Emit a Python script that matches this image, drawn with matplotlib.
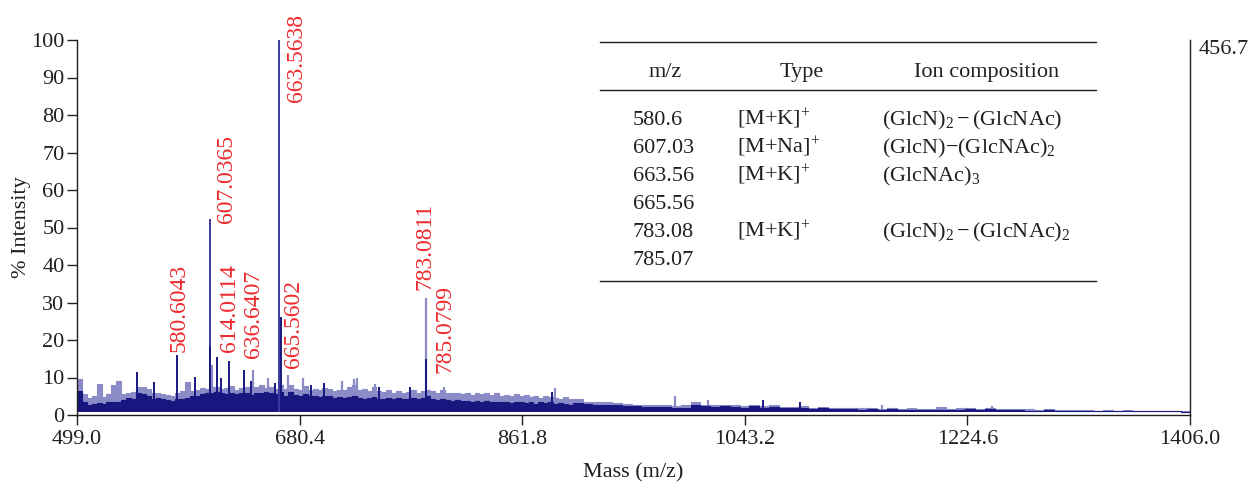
import numpy as np
import matplotlib
matplotlib.use('Agg')
import matplotlib.pyplot as plt
from matplotlib.lines import Line2D

plt.rcParams['font.family'] = ['Liberation Serif', 'DejaVu Serif']
plt.rcParams['mathtext.fontset'] = 'custom'
plt.rcParams['mathtext.rm'] = 'Liberation Serif'
plt.rcParams['mathtext.it'] = 'Liberation Serif:italic'
plt.rcParams['mathtext.bf'] = 'Liberation Serif:bold'

# --- spectrum background, bin starts in m/z ---
mz_fine = np.arange(499, 903, 4)      # 4 m/z bins up to 903
mz_coarse = np.arange(903, 1407, 8)   # 8 m/z bins after that
mz_end = 1407

light_fine = [9.5, 5.5, 4.5, 5.0, 8.4, 4.8, 5.5, 8.0, 9.0, 5.6,
              6.0, 6.2, 7.5, 7.5, 7.0, 5.8, 6.0, 5.6, 5.4, 5.0,
              6.0, 6.5, 8.8, 6.5, 6.8, 7.2, 7.0, 7.5, 7.6, 7.0,
              7.2, 7.8, 6.8, 7.2, 7.4, 6.8, 7.6, 8.0, 7.2, 7.6,
              7.0, 8.0, 7.0, 8.0, 7.0, 6.8, 7.8, 6.8, 7.0, 6.6,
              7.2, 7.0, 6.4, 6.8, 6.6, 7.4, 8.0, 6.8, 7.0, 6.4,
              7.6, 6.4, 6.2, 6.6, 6.0, 6.4, 6.0, 6.2, 6.6, 6.0,
              6.4, 6.8, 6.4, 6.0, 6.6, 6.0, 5.8, 6.0, 5.6, 6.0,
              5.4, 5.8, 5.6, 5.8, 5.4, 6.0, 5.2, 5.4, 5.0, 5.6,
              5.0, 5.4, 4.8, 5.2, 4.6, 5.0, 4.8, 4.6, 4.4, 4.8,
              4.2]
dark_fine = [6.5, 3.5, 2.8, 3.0, 3.2, 3.0, 3.4, 3.5, 3.6, 4.0,
             4.6, 4.4, 5.8, 5.6, 5.0, 4.4, 4.6, 4.2, 4.0, 3.8,
             4.2, 4.4, 4.6, 5.0, 5.2, 5.6, 5.8, 6.0, 6.2, 6.0,
             5.6, 5.8, 5.6, 6.0, 6.0, 5.4, 5.8, 6.0, 6.2, 5.8,
             5.5, 6.2, 5.0, 6.2, 5.4, 5.0, 5.6, 5.2, 5.0, 4.8,
             5.2, 5.0, 4.6, 4.8, 4.6, 4.8, 5.0, 4.6, 4.4, 4.6,
             4.8, 4.4, 4.2, 4.6, 4.4, 4.6, 4.2, 4.4, 4.6, 4.4,
             4.6, 5.0, 4.4, 4.0, 4.2, 4.0, 3.8, 4.0, 3.8, 3.8,
             3.6, 3.8, 3.6, 3.8, 3.4, 3.6, 3.4, 3.6, 3.2, 3.4,
             3.6, 3.2, 3.6, 3.0, 3.4, 3.2, 3.6, 3.0, 3.2, 3.0,
             2.8]
light_coarse = [4.2, 3.6, 3.6, 3.4, 3.2, 3.0, 2.8, 2.8, 2.6, 2.8,
                2.4, 2.6, 3.4, 2.8, 2.6, 2.8, 2.6, 2.4, 2.8, 2.4,
                2.6, 2.2, 2.2, 2.4, 2.0, 2.2, 1.9, 2.0, 1.9, 1.8,
                2.0, 1.7, 1.9, 1.7, 1.8, 1.6, 1.7, 2.2, 1.6, 1.8,
                1.9, 1.6, 2.0, 1.6, 1.7, 1.6, 1.5, 1.4, 1.6, 1.4,
                1.4, 1.4, 1.4, 1.2, 1.4, 1.2, 1.4, 1.2, 1.2, 1.2,
                1.2, 1.1, 1.0]
dark_coarse = [3.2, 3.0, 2.8, 2.8, 2.6, 2.4, 2.4, 2.2, 2.2, 2.2,
               2.0, 2.0, 2.6, 2.4, 2.2, 2.4, 2.2, 2.0, 2.4, 2.0,
               2.2, 1.8, 1.8, 2.0, 1.6, 1.8, 1.6, 1.6, 1.6, 1.4,
               1.6, 1.4, 1.6, 1.4, 1.4, 1.4, 1.4, 1.4, 1.4, 1.4,
               1.6, 1.4, 1.6, 1.4, 1.4, 1.4, 1.2, 1.2, 1.4, 1.2,
               1.2, 1.2, 1.2, 1.0, 1.2, 1.0, 1.2, 1.0, 1.0, 1.0,
               1.0, 1.0, 0.9]
baseline = 0.8

# narrow spikes
spike_dark_mz = [547.6, 561.7, 580.6, 595.2, 607.5, 612.8, 616.5, 622.9,
                 635.4, 640.5, 660.0, 665.56, 690.0, 700.5, 745.0, 770.0,
                 783.3, 885.8, 1058.3, 1088.2]
spike_dark_h = [11.6, 8.9, 16.0, 10.2, 18.4, 15.5, 10.0, 14.4,
                12.0, 9.0, 8.5, 26.2, 8.0, 8.6, 7.5, 7.4,
                15.0, 6.2, 4.0, 3.6]
spike_mid_mz = [607.04, 663.56]
spike_mid_h = [52.3, 100.0]
spike_light_mz = [609.0, 642.7, 654.9, 670.7, 683.2, 714.7, 724.7, 727.0,
                  741.9, 783.08, 798.0, 888.5, 986.3, 1013.5, 1155.0, 1245.0]
spike_light_h = [13.3, 12.0, 9.8, 10.7, 9.8, 9.0, 9.6, 9.8,
                 8.4, 31.3, 7.6, 7.1, 5.0, 4.0, 2.6, 2.3]

# peak annotations
peak_labels = ['580.6043', '607.0365', '614.0114', '636.6407',
               '663.5638', '665.5602', '783.0811', '785.0799']
label_x = [582.1, 621.2, 622.9, 643.2, 677.5, 675.8, 782.6, 798.9]
label_y = [16.8, 51.2, 16.8, 15.2, 83.5, 12.5, 33.3, 11.2]

# table
col_heads = ['m/z', 'Type', 'Ion composition']
tab_mz = ['580.6', '607.03', '663.56', '665.56', '783.08', '785.07']
tab_type = ['[M+K]$^{+}$', '[M+Na]$^{+}$', '[M+K]$^{+}$', '', '[M+K]$^{+}$', '']
tab_ion = [r'(GlcN$)_{2}-$(GlcNAc)', r'(GlcN)$-$(GlcNAc$)_{2}$', r'(GlcNAc$)_{3}$',
           '', r'(GlcN$)_{2}-$(GlcNAc$)_{2}$', '']

xticks = [499.0, 680.4, 861.8, 1043.2, 1224.6, 1406.0]
yticks = [0, 10, 20, 30, 40, 50, 60, 70, 80, 90, 100]

INK = '#231f20'
DARK = '#17177f'
MID = '#3a3a9e'
LIGHT = '#8b8bc7'
RED = '#ee2a2e'
FS = 16

W, H = 1257, 483
fig = plt.figure(figsize=(W / 100, H / 100), dpi=100)
ax = fig.add_axes([77 / W, 68 / H, 1113 / W, 375 / H])

edges = np.append(np.concatenate([mz_fine, mz_coarse]), mz_end)
light = np.concatenate([light_fine, light_coarse])
dark = np.concatenate([dark_fine, dark_coarse])
light = np.append(light, light[-1])
dark = np.append(dark, dark[-1])

# light layer first, dark layer on top of it
ax.fill_between(edges, baseline, light, step='post', color=LIGHT, lw=0, zorder=1)
ax.step(edges, light, where='post', color=LIGHT, lw=0.8, zorder=1.1)
ax.vlines(spike_light_mz, baseline, spike_light_h, color=LIGHT, lw=1.6, zorder=1.2)
ax.fill_between(edges, baseline, dark, step='post', color=DARK, lw=0, zorder=2)
ax.step(edges, dark, where='post', color=DARK, lw=0.8, zorder=2.1)
ax.vlines(spike_mid_mz, baseline, spike_mid_h, color=MID, lw=1.4, zorder=2.2)
ax.vlines(spike_dark_mz, baseline, spike_dark_h, color=DARK, lw=1.4, zorder=2.3)

for lab, lx, ly in zip(peak_labels, label_x, label_y):
    ax.text(lx, ly, lab, rotation=90, ha='center', va='bottom',
            color=RED, fontsize=17)

ax.set_xlim(499, 1406)
ax.set_ylim(0, 100)
ax.set_xticks(xticks)
ax.set_xticklabels([f'{t:.1f}' for t in xticks])
ax.set_yticks(yticks)
ax.tick_params(colors=INK, labelsize=FS, length=7, width=1, direction='out')
ax.tick_params(axis='x', pad=4)
ax.tick_params(axis='y', pad=2)
ax.spines['top'].set_visible(False)
for s in ['left', 'bottom', 'right']:
    ax.spines[s].set_color(INK)
    ax.spines[s].set_linewidth(1)
ax.set_xlabel('Mass (m/z)', fontsize=FS, color=INK, labelpad=10)
ax.set_ylabel('% Intensity', fontsize=FS, color=INK, labelpad=0)
ax.text(1.008, 1.0, '456.7', transform=ax.transAxes, ha='left', va='top',
        fontsize=FS, color=INK)

# table drawn in figure pixels
def fx(px):
    return px / W

def fy(py):
    return 1 - py / H

for py in [42, 90, 281]:
    fig.add_artist(Line2D([fx(600), fx(1096)], [fy(py), fy(py)],
                          color=INK, lw=1))
for head, cx in zip(col_heads, [665, 802, 987]):
    fig.text(fx(cx), fy(77), head, ha='center', va='baseline',
             fontsize=FS, color=INK)
row_base = [125, 153, 181, 209, 237, 265]
for m, t, c, by in zip(tab_mz, tab_type, tab_ion, row_base):
    fig.text(fx(633), fy(by), m, ha='left', va='baseline', fontsize=FS, color=INK)
    if t:
        fig.text(fx(737), fy(by), t, ha='left', va='baseline', fontsize=FS, color=INK)
    if c:
        fig.text(fx(882), fy(by), c, ha='left', va='baseline', fontsize=FS, color=INK)

fig.savefig('out.png', dpi=100)
